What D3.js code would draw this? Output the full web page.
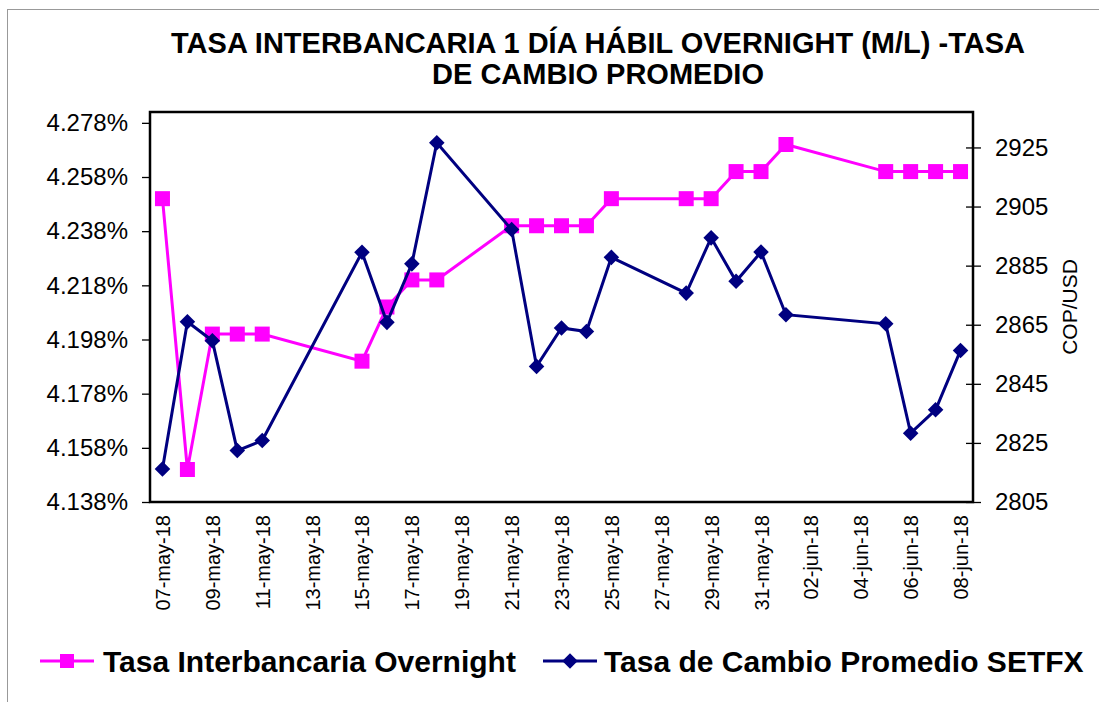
<!DOCTYPE html>
<html>
<head>
<meta charset="utf-8">
<script src="https://cdn.jsdelivr.net/npm/d3@7"></script>
<style>
body{margin:0;background:#fff}
text{font-family:"Liberation Sans",Arial,sans-serif}
</style>
</head>
<body>
<div id="container"></div>
<script>
// fechas habiles (x) y las dos series
var fechas = ["2018-05-07","2018-05-08","2018-05-09","2018-05-10","2018-05-11","2018-05-15","2018-05-16","2018-05-17","2018-05-18","2018-05-21","2018-05-22","2018-05-23","2018-05-24","2018-05-25","2018-05-28","2018-05-29","2018-05-30","2018-05-31","2018-06-01","2018-06-05","2018-06-06","2018-06-07","2018-06-08"]
var overnight = [4.25,4.15,4.20,4.20,4.20,4.19,4.21,4.22,4.22,4.24,4.24,4.24,4.24,4.25,4.25,4.25,4.26,4.26,4.27,4.26,4.26,4.26,4.26]
var setfx = [2816.2,2866.0,2859.6,2822.4,2825.8,2889.5,2865.8,2885.6,2926.6,2897.2,2850.9,2863.9,2862.7,2887.8,2875.7,2894.4,2879.7,2889.6,2868.4,2865.3,2828.3,2836.2,2856.3]

var xTickFechas = ["2018-05-07","2018-05-09","2018-05-11","2018-05-13","2018-05-15","2018-05-17","2018-05-19","2018-05-21","2018-05-23","2018-05-25","2018-05-27","2018-05-29","2018-05-31","2018-06-02","2018-06-04","2018-06-06","2018-06-08"]
var xTickLabels = ["07-may-18","09-may-18","11-may-18","13-may-18","15-may-18","17-may-18","19-may-18","21-may-18","23-may-18","25-may-18","27-may-18","29-may-18","31-may-18","02-jun-18","04-jun-18","06-jun-18","08-jun-18"]
var leftTicks = [4.138,4.158,4.178,4.198,4.218,4.238,4.258,4.278]
var rightTicks = [2805,2825,2845,2865,2885,2905,2925]

var titulo = ["TASA INTERBANCARIA 1 DÍA HÁBIL OVERNIGHT (M/L) -TASA","DE CAMBIO PROMEDIO"]
var series = ["Tasa Interbancaria Overnight","Tasa de Cambio Promedio SETFX"]

var w = 1099
var h = 702
var pL = 150, pR = 973, pT = 112, pB = 502

var parse = d3.timeParse("%Y-%m-%d")
// punto en el centro del dia (como en Excel)
function mid(s){ return d3.timeHour.offset(parse(s),12) }

var xScale = d3.scaleTime().domain([parse("2018-05-07"),parse("2018-06-09")]).range([pL,pR])
var yLeft = d3.scaleLinear().domain([4.138,4.282]).range([pB,pT])
var yRight = d3.scaleLinear().domain([2805,2937]).range([pB,pT])

var svg = d3.select("#container").append("svg").attr("width",w).attr("height",h)

svg.append("rect").attr("width",w).attr("height",h).attr("fill","#fff")
svg.append("rect").attr("x",7.5).attr("y",9.5).attr("width",w+10).attr("height",h)
    .attr("fill","none").attr("stroke","#999").attr("stroke-width",1)

// titulo
svg.selectAll(".titulo").data(titulo).enter().append("text")
    .attr("class","titulo")
    .attr("x",598).attr("y",function(d,i){return 53+i*31})
    .attr("text-anchor","middle").attr("font-size","29px").attr("font-weight","bold")
    .text(function(d){return d})

// ejes
var axisL = d3.axisLeft(yLeft).tickValues(leftTicks).tickSize(8).tickPadding(14)
    .tickFormat(function(d){return d3.format(".3f")(d)+"%"})
var gL = svg.append("g").attr("transform","translate("+pL+",0)").call(axisL)
gL.select(".domain").remove()
gL.selectAll("text").attr("font-size","24px").attr("font-family","Liberation Sans").attr("fill","#000")
gL.selectAll("line").attr("stroke","#000").attr("stroke-width",1.3)

var axisR = d3.axisRight(yRight).tickValues(rightTicks).tickSize(8).tickPadding(14)
    .tickFormat(d3.format("d"))
var gR = svg.append("g").attr("transform","translate("+pR+",0)").call(axisR)
gR.select(".domain").remove()
gR.selectAll("text").attr("font-size","24px").attr("font-family","Liberation Sans").attr("fill","#000")
gR.selectAll("line").attr("stroke","#000").attr("stroke-width",1.3).attr("x1",-7)

var axisX = d3.axisBottom(xScale).tickValues(xTickFechas.map(mid)).tickSize(0)
    .tickFormat(function(d,i){return xTickLabels[i]})
var gX = svg.append("g").attr("transform","translate(0,"+pB+")").call(axisX)
gX.select(".domain").remove()
gX.selectAll("text")
    .attr("font-size","20px").attr("font-family","Liberation Sans").attr("fill","#000")
    .attr("text-anchor","end").attr("y",0).attr("dy","0.35em")
    .attr("transform","translate(0,13) rotate(-90)")

svg.append("text").attr("transform","translate(1070,307) rotate(-90)")
    .attr("text-anchor","middle").attr("dy","0.35em").attr("font-size","21px")
    .text("COP/USD")

// area del grafico
svg.append("rect").attr("x",pL).attr("y",pT).attr("width",pR-pL).attr("height",pB-pT)
    .attr("fill","none").attr("stroke","#000").attr("stroke-width",2.5)

// serie overnight (eje izq)
var dataO = fechas.map(function(f,i){return {d:mid(f),v:overnight[i]}})
svg.append("path").datum(dataO)
    .attr("fill","none").attr("stroke","#ff00ff").attr("stroke-width",3)
    .attr("d",d3.line().x(function(d){return xScale(d.d)}).y(function(d){return yLeft(d.v)}))
svg.selectAll(".sq").data(dataO).enter().append("rect")
    .attr("class","sq")
    .attr("x",function(d){return xScale(d.d)-7.5}).attr("y",function(d){return yLeft(d.v)-7.5})
    .attr("width",15).attr("height",15).attr("fill","#ff00ff")

// serie SETFX (eje der)
var dataS = fechas.map(function(f,i){return {d:mid(f),v:setfx[i]}})
svg.append("path").datum(dataS)
    .attr("fill","none").attr("stroke","#000080").attr("stroke-width",3)
    .attr("d",d3.line().x(function(d){return xScale(d.d)}).y(function(d){return yRight(d.v)}))
svg.selectAll(".dm").data(dataS).enter().append("path")
    .attr("class","dm")
    .attr("transform",function(d){return "translate("+xScale(d.d)+","+yRight(d.v)+") rotate(45)"})
    .attr("d","M-5.5,-5.5H5.5V5.5H-5.5Z").attr("fill","#000080")

// leyenda
var legX = [40,543]
var colores = ["#ff00ff","#000080"]
series.forEach(function(s,i){
    var g = svg.append("g").attr("transform","translate("+legX[i]+",661)")
    g.append("line").attr("x1",0).attr("x2",54).attr("stroke",colores[i]).attr("stroke-width",3)
    if(i==0){
        g.append("rect").attr("x",20).attr("y",-7).attr("width",14).attr("height",14).attr("fill",colores[i])
    }else{
        g.append("path").attr("transform","translate(27,0) rotate(45)").attr("d","M-5.5,-5.5H5.5V5.5H-5.5Z").attr("fill",colores[i])
    }
    g.append("text").attr("x",i==0?63:61).attr("y",11).attr("font-size","30px").attr("font-weight","bold").text(s)
})
</script>
</body>
</html>
